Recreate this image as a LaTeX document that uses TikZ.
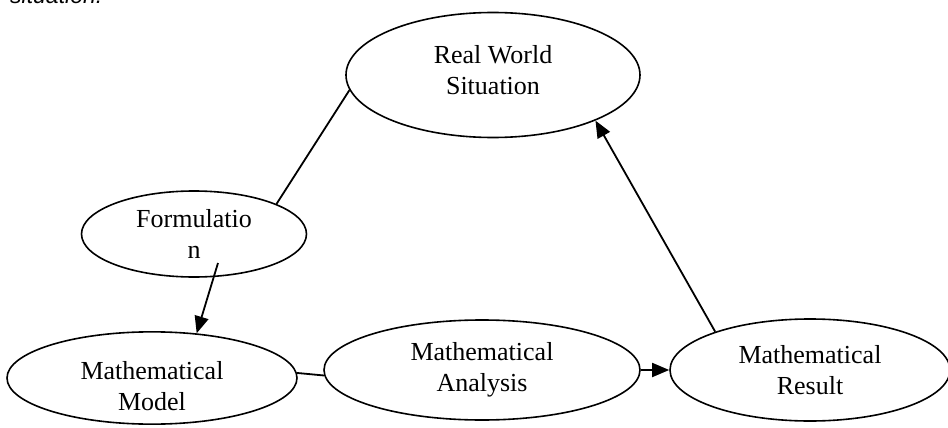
\documentclass[tikz,border=0pt]{standalone}
\usepackage{fontspec}
\setmainfont{Liberation Serif}
\newfontfamily\capfont{Liberation Sans}
\usetikzlibrary{shapes.geometric,arrows.meta}

\begin{document}
\begin{tikzpicture}[x=1pt,y=-1pt,
  font=\fontsize{26}{31}\selectfont,
  stage/.style={draw,ellipse,line width=1.6pt,inner sep=0pt,align=center},
  link/.style={line width=1.8pt},
  >={Triangle[length=17pt,width=14pt]}
]
\useasboundingbox (0,0) rectangle (948,428);
\node[anchor=base west,inner sep=0pt,
      font=\fontsize{23}{27}\selectfont\capfont\itshape] (cap) at (10,4) {situation.};

\node[stage,minimum width=294pt,minimum height=125pt] (real)     at (493,75)  {Real World\\Situation\rule[-10pt]{0pt}{10pt}};
\node[stage,minimum width=225pt,minimum height=86pt]  (form)     at (194,234) {Formulatio\\n};
\node[stage,minimum width=290pt,minimum height=92pt]  (model)    at (152,378) {\rule{0pt}{34pt}Mathematical\\Model};
\node[stage,minimum width=316pt,minimum height=100pt] (analysis) at (482,370) {Mathematical\\Analysis};
\node[stage,minimum width=280pt,minimum height=102pt] (result)   at (810,370) {Mathematical\\Result};
\coordinate (fstart) at (218,263);

\draw[link] (form.20) -- (real.186);
\draw[link,->] (fstart) -- (model.45);
\draw[link] (model.2) -- (analysis.182);
\draw[link,->] (analysis.east) -- (result.west);
\draw[link,->] (result.158) -- (real.-24);
\end{tikzpicture}
\end{document}
